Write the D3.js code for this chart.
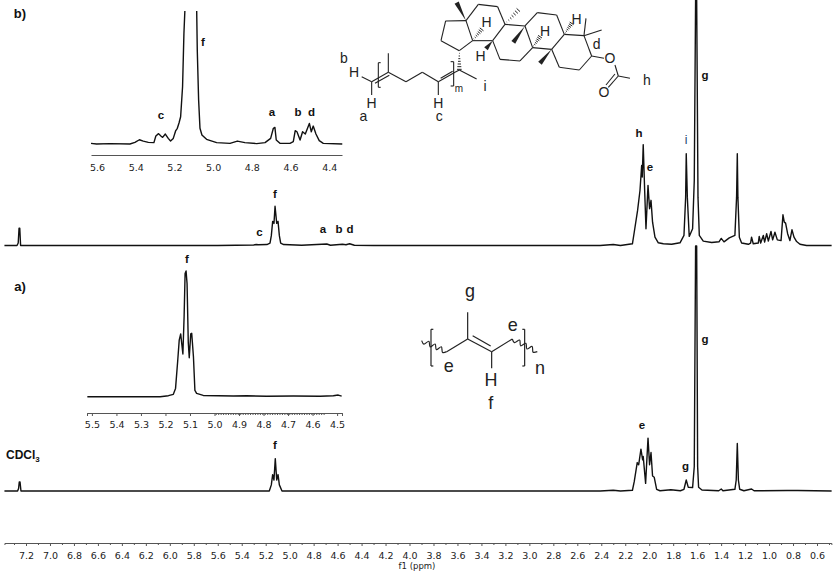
<!DOCTYPE html>
<html lang="en">
<head>
  <meta charset="UTF-8" />
  <title>1H NMR spectra</title>
  <script src="https://d3js.org/d3.v7.min.js"></script>
  <style>
    body { margin: 0; background: #fff; }
    svg { display: block; }
    .spec { fill: none; stroke: #111; stroke-width: 1.4px; stroke-linejoin: round; }
    .axis path, .axis line { stroke: #555; stroke-width: 1px; }
    .axis text { font-family: "DejaVu Sans", sans-serif; font-size: 9.5px; fill: #222; }
    .lbl { font-family: "Liberation Sans", Arial, sans-serif; font-weight: bold; font-size: 11.5px; text-anchor: middle; fill: #111; }
    .chem text { font-family: "Liberation Sans", Arial, sans-serif; fill: #222; text-anchor: middle; }
    .chem line, .chem path { stroke: #222; fill: none; }
  </style>
</head>
<body>
  <svg width="834" height="574"></svg>

  <script>
    // spectrum b, full range (intensity: g peak = 100)
    const bMainPpm = [7.38, 7.275, 7.265, 7.258, 7.252, 7.245, 5.6, 5.3, 5.28, 5.26, 5.19, 5.164, 5.153, 5.142, 5.131, 5.122, 5.108, 5.097, 5.086, 5.075, 5.05, 4.9, 4.69, 4.66, 4.56, 4.53, 4.5, 4.46, 4.3, 2.41, 2.30, 2.24, 2.14, 2.125, 2.097, 2.077, 2.063, 2.058, 2.05, 2.038, 2.027, 2.01, 1.997, 1.985, 1.972, 1.952, 1.924, 1.882, 1.813, 1.743, 1.71, 1.696, 1.691, 1.682, 1.666, 1.638, 1.624, 1.613, 1.604, 1.593, 1.582, 1.549, 1.479, 1.418, 1.399, 1.376, 1.332, 1.285, 1.271, 1.265, 1.26, 1.248, 1.229, 1.173, 1.154, 1.146, 1.132, 1.09, 1.082, 1.07, 1.048, 1.037, 1.02, 1.006, 0.984, 0.97, 0.951, 0.931, 0.9, 0.884, 0.873, 0.862, 0.845, 0.826, 0.809, 0.792, 0.77, 0.742, 0.687, 0.478];
    const bMainInt = [0, 0, 1, 7, 7, 0, 0, 0.2, 0.4, 0.3, 0.4, 1, 4, 9.8, 9, 16, 9, 9.8, 4, 1, 0.4, 0.1, 0.6, 0.1, 0.5, 0.3, 0.7, 0.1, 0, 0, 0.4, 0, 0.7, 5.4, 14.3, 22.4, 32.6, 27.9, 41.1, 22.4, 6.8, 24.5, 15, 18.4, 9.5, 3.4, 1.1, 0.7, 0.5, 1.1, 4.1, 19.7, 37.4, 19.7, 3.7, 6.8, 26.5, 100, 100, 19.7, 4.1, 1.8, 1.2, 1.5, 2.9, 1.5, 3.1, 4.1, 19.7, 37.4, 19.7, 3.4, 1, 0.5, 1, 3.4, 0.7, 1, 3.7, 1, 4.1, 1.4, 4.8, 1.8, 5.7, 2.3, 5.4, 2.3, 2, 12.5, 9.5, 9.1, 4.8, 2, 6.4, 3.4, 1.6, 0.5, 0, 0];

    // spectrum a, full range
    const aMainPpm = [7.38, 7.27, 7.262, 7.256, 7.25, 7.242, 5.3, 5.17, 5.153, 5.142, 5.131, 5.12, 5.108, 5.097, 5.086, 5.064, 5.0, 2.41, 2.30, 2.24, 2.14, 2.125, 2.10, 2.088, 2.069, 2.055, 2.05, 2.03, 2.01, 1.997, 1.985, 1.972, 1.958, 1.938, 1.91, 1.819, 1.74, 1.71, 1.691, 1.674, 1.638, 1.624, 1.613, 1.604, 1.596, 1.588, 1.56, 1.42, 1.399, 1.385, 1.285, 1.274, 1.265, 1.256, 1.245, 1.21, 1.146, 1.125, 0.85, 0.76, 0.478];
    const aMainInt = [0, 0, 1, 3.7, 3.7, 0, 0, 0, 2.5, 6.7, 4.5, 13.2, 4.5, 6.7, 2.5, 0, 0, 0, 0.3, 0, 0.3, 3.8, 11.6, 10.7, 17.1, 12.7, 14.1, 3.1, 21.6, 10.7, 15.7, 6.1, 5.6, 0.7, 0.1, 0.5, 0.1, 0.7, 4.5, 1.5, 1.4, 10, 100, 100, 10, 1.5, 0.4, 0.1, 0.8, 0.1, 0.7, 4.5, 19.4, 4.5, 0.7, 0.1, 0.8, 0.1, 0.2, 0.2, 0];

    // inset b, 5.63 - 4.33 ppm (f runs off the top)
    const insetBPpm = [5.631, 5.602, 5.533, 5.43, 5.404, 5.381, 5.361, 5.335, 5.306, 5.296, 5.282, 5.27, 5.261, 5.247, 5.232, 5.22, 5.206, 5.194, 5.185, 5.176, 5.168, 5.158, 5.151, 5.146, 5.137, 5.12, 5.089, 5.085, 5.082, 5.075, 5.068, 5.058, 5.034, 4.982, 4.913, 4.875, 4.836, 4.775, 4.732, 4.703, 4.689, 4.681, 4.674, 4.655, 4.603, 4.586, 4.576, 4.567, 4.551, 4.538, 4.524, 4.503, 4.493, 4.483, 4.469, 4.452, 4.431, 4.333];
    const insetBInt = [0.5, 0, 0.3, 0, 1.2, 3.2, 2.2, 1.2, 1, 6, 7.8, 6, 5, 7.5, 4.2, 2.2, 4.2, 9.8, 11.8, 16, 20.5, 43, 83, 100.5, 133, 300, 133, 100, 70.5, 33, 11.8, 6.8, 3.5, 1, 0.5, 2.2, 1, 0.3, 1, 4.2, 11.8, 12.5, 3, 0.5, 0.5, 1.8, 10, 9.2, 3, 9.2, 7.5, 15.5, 9.2, 13.5, 7.5, 2.5, 0.5, 0];

    // inset a, 5.52 - 4.48 ppm
    const insetAPpm = [5.519, 5.222, 5.188, 5.168, 5.159, 5.15, 5.144, 5.138, 5.133, 5.129, 5.124, 5.12, 5.116, 5.112, 5.107, 5.103, 5.097, 5.093, 5.086, 5.08, 5.073, 5.046, 4.923, 4.869, 4.787, 4.678, 4.569, 4.515, 4.495, 4.481];
    const insetAInt = [0, 0, 0.8, 1.9, 6.6, 29, 45, 50, 41, 34, 64, 98, 100, 90, 43, 31, 50, 50.4, 32, 5, 2.7, 1, 0.5, 0.8, 0.3, 0.5, 0.3, 0.8, 1.3, 0.5];

    const mainLabels = d3.range(36, 2, -1).map(d => d / 5);
    const mainMinor = d3.range(73, 4, -2).map(d => d / 10);
    const insetBLabels = [5.6, 5.4, 5.2, 5.0, 4.8, 4.6, 4.4];
    const insetALabels = [5.5, 5.4, 5.3, 5.2, 5.1, 5.0, 4.9, 4.8, 4.7, 4.6, 4.5];

    const svg = d3.select("svg");

    const xMain = d3.scaleLinear().domain([7.2, 0.6]).range([26, 817]);
    const xInsetB = d3.scaleLinear().domain([5.6, 4.4]).range([97, 329.3]);
    const xInsetA = d3.scaleLinear().domain([5.5, 4.5]).range([92, 337]);
    const yMainB = d3.scaleLinear().domain([0, 100]).range([245.5, 0]);
    const yMainA = d3.scaleLinear().domain([0, 100]).range([491, 246]);
    const yInsetB = d3.scaleLinear().domain([0, 100]).range([144, 11]);
    const yInsetA = d3.scaleLinear().domain([0, 100]).range([396.7, 271]);

    svg.append("clipPath").attr("id", "insetClip")
      .append("rect").attr("x", 80).attr("y", 11).attr("width", 270).attr("height", 150);

    function spectrum(ppm, vals, x, y, clip) {
      const line = d3.line().x(d => x(d[0])).y(d => y(d[1]));
      const p = svg.append("path")
        .attr("class", "spec")
        .attr("d", line(d3.zip(ppm, vals)));
      if (clip) p.attr("clip-path", "url(#insetClip)");
    }

    spectrum(bMainPpm, bMainInt, xMain, yMainB);
    spectrum(aMainPpm, aMainInt, xMain, yMainA);
    spectrum(insetBPpm, insetBInt, xInsetB, yInsetB, true);
    spectrum(insetAPpm, insetAInt, xInsetA, yInsetA);

    // main axis
    const mainScale = xMain.copy().domain([7.38, 0.48]).range([xMain(7.38), xMain(0.48)]);
    svg.append("g").attr("class", "axis").attr("transform", "translate(0,543)")
      .call(d3.axisBottom(mainScale).tickValues(mainMinor).tickSize(2).tickFormat(""));
    const mainAxis = svg.append("g").attr("class", "axis").attr("transform", "translate(0,543)")
      .call(d3.axisBottom(mainScale).tickValues(mainLabels).tickSize(3).tickPadding(6).tickFormat(d3.format(".1f")));
    mainAxis.select(".domain").remove();

    // inset axes
    const bScale = xInsetB.copy().domain([5.631, 4.334]).range([91, 342]);
    svg.append("g").attr("class", "axis").attr("transform", "translate(0,155)")
      .call(d3.axisBottom(bScale).tickValues(insetBLabels).tickSize(0).tickPadding(9).tickFormat(d3.format(".1f")));
    const aScale = xInsetA.copy().domain([5.52, 4.48]).range([87, 342]);
    svg.append("g").attr("class", "axis").attr("transform", "translate(0,413)")
      .call(d3.axisBottom(aScale).tickValues(insetALabels).tickSize(3).tickPadding(5).tickFormat(d3.format(".1f")));
    svg.append("g").attr("class", "axis").attr("transform", "translate(0,413)")
      .call(d3.axisBottom(aScale).tickValues(d3.range(11, 100, 2).map(d => 4.5 + d / 200).filter(d => d < 5.52)).tickSize(2).tickFormat(""));

    svg.append("text").attr("x", 417).attr("y", 569)
      .attr("text-anchor", "middle")
      .attr("font-family", "DejaVu Sans, sans-serif").attr("font-size", 8.5).attr("fill", "#222")
      .text("f1 (ppm)");

    // peak labels
    const peakLabels = [
      ["b)", 20, 18, 13], ["a)", 20, 291, 13],
      ["c", 161, 119], ["f", 203, 46], ["a", 272, 116], ["b", 298, 116], ["d", 311.5, 116],
      ["f", 275, 198], ["c", 259.5, 236], ["a", 323, 233], ["b", 339, 233], ["d", 350, 233],
      ["h", 639, 137], ["e", 650, 171], ["g", 705, 79],
      ["f", 187, 263], ["g", 705, 343], ["f", 275, 449], ["e", 642, 429], ["g", 685.5, 470]
    ];
    svg.selectAll(".lbl").data(peakLabels).enter().append("text")
      .attr("class", "lbl")
      .attr("x", d => d[1]).attr("y", d => d[2])
      .attr("font-size", d => d[3] || null)
      .style("font-size", d => d[3] ? d[3] + "px" : null)
      .text(d => d[0]);

    svg.append("text").attr("x", 686).attr("y", 144)
      .attr("text-anchor", "middle").attr("fill", "#1a3a6a")
      .attr("font-family", "Liberation Sans, Arial, sans-serif").attr("font-size", 12)
      .text("i");

    const solvent = svg.append("text").attr("x", 6).attr("y", 459)
      .attr("font-family", "Liberation Sans, Arial, sans-serif")
      .attr("font-weight", "bold").attr("font-size", 12).attr("fill", "#111");
    solvent.append("tspan").text("CDCl");
    solvent.append("tspan").attr("font-size", 8).attr("dy", 3).text("3");

    // helper for the wavy end bonds
    function wavy(g, x0, y0, x1, y1, n, amp) {
      const dx = x1 - x0, dy = y1 - y0, len = Math.hypot(dx, dy);
      const pts = d3.range(n + 1).map(i => {
        const s = (i % 2 ? 1 : -1) * (i === 0 || i === n ? 0 : amp);
        return [x0 + dx * i / n - dy / len * s, y0 + dy * i / n + dx / len * s];
      });
      g.append("path").attr("d", d3.line().curve(d3.curveCatmullRom)(pts));
    }

    function bonds(g, list) {
      g.selectAll("line.b").data(list).enter().append("line").attr("class", "b")
        .attr("x1", d => d[0]).attr("y1", d => d[1])
        .attr("x2", d => d[2]).attr("y2", d => d[3]);
    }

    function wedge(g, x0, y0, x1, y1) {
      const dx = x1 - x0, dy = y1 - y0, len = Math.hypot(dx, dy);
      const nx = -dy / len * 7, ny = dx / len * 7;
      g.append("path").attr("d", `M${x0},${y0}L${x1 + nx},${y1 + ny}L${x1 - nx},${y1 - ny}Z`)
        .style("fill", "#222").style("stroke", "none");
    }

    function hash(g, x0, y0, x1, y1) {
      const dx = x1 - x0, dy = y1 - y0, len = Math.hypot(dx, dy);
      d3.range(1, 8).forEach(i => {
        const t = i / 7, w = 7 * t;
        const cx = x0 + dx * t, cy = y0 + dy * t;
        g.append("line").attr("x1", cx - dy / len * w).attr("y1", cy + dx / len * w)
          .attr("x2", cx + dy / len * w).attr("y2", cy - dx / len * w)
          .style("stroke-width", 3);
      });
    }

    // polyisoprene unit
    const unitA = svg.append("g").attr("class", "chem")
      .attr("transform", "translate(400,270) scale(0.3333)")
      .style("stroke-width", 3.6);
    bonds(unitA, [
      [100, 178, 93, 178], [93, 178, 93, 288], [93, 288, 100, 288],
      [367, 178, 374, 178], [374, 178, 374, 288], [374, 288, 367, 288],
      [140, 245, 203, 207], [203, 207, 203, 127], [203, 207, 275, 245],
      [218, 197, 272, 228], [275, 245, 275, 295], [275, 245, 337, 207]
    ]);
    wavy(unitA, 65, 212, 140, 245, 8, 7);
    wavy(unitA, 337, 207, 412, 245, 8, 7);
    [["g", 210, 80, 54], ["e", 338, 182, 54], ["e", 146, 305, 54], ["H", 273, 348, 54], ["n", 420, 312, 54], ["f", 272, 418, 54]]
      .forEach(t => unitA.append("text").attr("x", t[1]).attr("y", t[2]).attr("font-size", t[3]).text(t[0]));

    // end-capped polymer
    const unitB = svg.append("g").attr("class", "chem")
      .attr("transform", "translate(330,0) scale(0.3333)")
      .style("stroke-width", 3.3);
    bonds(unitB, [
      [95, 230, 125, 245], [125, 245, 175, 217], [135, 250, 178, 226], [125, 245, 125, 285],
      [175, 217, 175, 160], [175, 217, 228, 245], [228, 245, 277, 217], [277, 217, 325, 245],
      [325, 245, 375, 217], [332, 235, 368, 214], [325, 245, 325, 285], [375, 217, 388, 210],
      [152, 188, 145, 188], [145, 188, 145, 262], [145, 262, 152, 262],
      [362, 185, 371, 185], [371, 185, 371, 258], [371, 258, 362, 258],
      [388, 210, 440, 237],
      [388, 152, 333, 122], [333, 122, 347, 63], [347, 63, 408, 62], [408, 62, 428, 122], [428, 122, 388, 152],
      [408, 62, 445, 13], [445, 13, 503, 20], [503, 20, 525, 73], [525, 73, 488, 122], [488, 122, 428, 122],
      [488, 122, 510, 178], [510, 178, 570, 183], [570, 183, 608, 143], [608, 143, 585, 78], [585, 78, 525, 73],
      [585, 78, 622, 38], [622, 38, 680, 45], [680, 45, 703, 103], [703, 103, 665, 148], [665, 148, 608, 143],
      [665, 148, 688, 202], [688, 202, 748, 210], [748, 210, 785, 168], [785, 168, 762, 107], [762, 107, 703, 103],
      [762, 107, 768, 55], [762, 107, 815, 90], [785, 168, 822, 175],
      [855, 195, 865, 228], [865, 228, 900, 235], [865, 228, 835, 262], [855, 222, 828, 255]
    ]);
    wedge(unitB, 408, 62, 380, 8);
    wedge(unitB, 488, 122, 468, 146);
    wedge(unitB, 585, 78, 550, 127);
    wedge(unitB, 665, 148, 630, 190);
    hash(unitB, 388, 152, 388, 208);
    hash(unitB, 428, 122, 455, 88);
    hash(unitB, 525, 73, 565, 30);
    hash(unitB, 608, 143, 630, 110);
    hash(unitB, 703, 103, 725, 70);
    [["H", 72, 232, 42], ["H", 125, 324, 42], ["H", 325, 324, 42], ["H", 470, 82, 42], ["H", 452, 182, 42],
     ["H", 645, 109, 42], ["H", 740, 72, 42], ["O", 840, 190, 42], ["O", 822, 290, 42],
     ["m", 387, 276, 30], ["b", 42, 190, 42], ["a", 100, 362, 42], ["c", 328, 364, 42], ["i", 465, 272, 42], ["d", 800, 148, 42], ["h", 951, 255, 42]]
      .forEach(t => unitB.append("text").attr("x", t[1]).attr("y", t[2]).attr("font-size", t[3]).text(t[0]));
  </script>
</body>
</html>
